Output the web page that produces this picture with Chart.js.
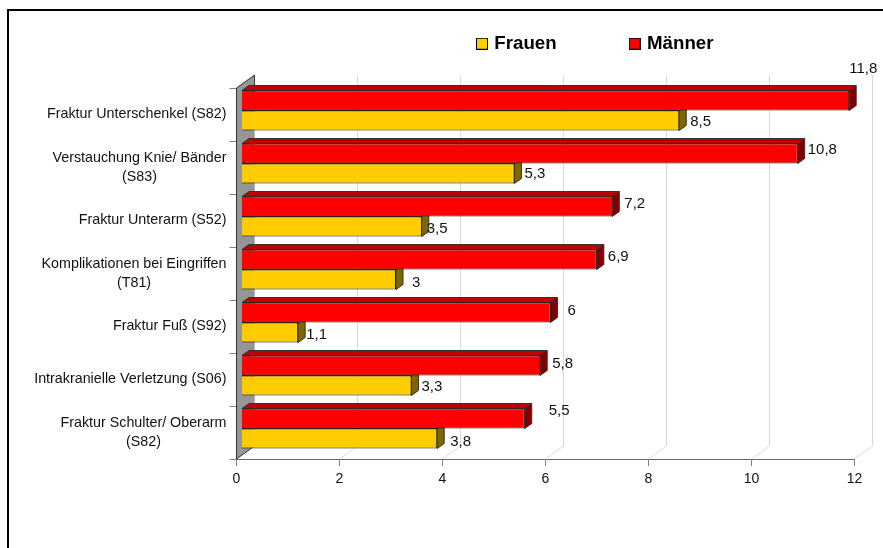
<!DOCTYPE html>
<html>
<head>
<meta charset="utf-8">
<style>html,body{margin:0;padding:0;background:#fff}canvas{display:block}</style>
<script src="https://cdn.jsdelivr.net/npm/chart.js@4/dist/chart.umd.min.js"></script>
</head>
<body>
<canvas id="c" width="883" height="548"></canvas>
<script>
const categories = [
  'Fraktur Unterschenkel (S82)',
  ['Verstauchung Knie/ Bänder', '(S83)'],
  'Fraktur Unterarm (S52)',
  ['Komplikationen bei Eingriffen', '(T81)'],
  'Fraktur Fuß (S92)',
  'Intrakranielle Verletzung (S06)',
  ['Fraktur Schulter/ Oberarm', '(S82)']
];
const maenner = [11.8, 10.8, 7.2, 6.9, 6, 5.8, 5.5];
const frauen = [8.5, 5.3, 3.5, 3, 1.1, 3.3, 3.8];
const xTicks = [0, 2, 4, 6, 8, 10, 12];

// hand placement of the value labels, relative to each bar's end
const maennerNudge = [[-7, -32], [3, -4], [5, -3], [4, -3], [10, -2], [5, -2], [17, -8]];
const frauenNudge = [[4, 1], [3, 0], [-2, 2], [9, 3], [1, 2], [3, 1], [6, 3]];

const FONT = '"Liberation Sans", Arial, sans-serif';
const BAR_SHIFT = {x: 5, y: -4};
const BAR_DEPTH = {x: 7, y: -5};
const WALL_DEPTH = {x: 18, y: -13};

function swatch(color) {
  const s = document.createElement('canvas');
  s.width = 12; s.height = 12;
  const g = s.getContext('2d');
  g.fillStyle = color; g.fillRect(0, 0, 12, 12);
  g.strokeStyle = '#000'; g.lineWidth = 1; g.strokeRect(.5, .5, 11, 11);
  return s;
}

function poly(ctx, pts, fill, stroke) {
  ctx.beginPath();
  pts.forEach((p, i) => i ? ctx.lineTo(p[0], p[1]) : ctx.moveTo(p[0], p[1]));
  ctx.closePath();
  if (fill) { ctx.fillStyle = fill; ctx.fill(); }
  if (stroke) { ctx.strokeStyle = stroke; ctx.lineWidth = 1; ctx.stroke(); }
}

const scene3d = {
  id: 'scene3d',
  beforeUpdate(chart) {
    const lg = chart.legend;
    if (lg && !lg._wrapped) {
      const fit = lg.fit;
      lg.fit = function () { fit.call(this); this.height = 0; };
      lg._wrapped = true;
    }
  },
  afterLayout(chart) {
    const lg = chart.legend;
    const pad = lg.options.labels.padding;
    lg.left = 479 - pad;
    lg.right = 1200;
    lg.top = 43.7 - 9.35 - pad;

    // centre the lines of wrapped category labels under each other
    const ys = chart.scales.y, ctx = chart.ctx;
    ys.getLabelItems().forEach(item => {
      if (!Array.isArray(item.label)) return;
      ctx.save();
      ctx.font = item.font.string;
      const w = Math.max(...item.label.map(t => ctx.measureText(t).width));
      ctx.restore();
      item.options.textAlign = 'center';
      item.options.translation = [item.options.translation[0] - w / 2, item.options.translation[1]];
    });
  },
  beforeDraw(chart) {
    const ctx = chart.ctx;
    ctx.save();
    ctx.fillStyle = '#000';
    ctx.fillRect(7, 9, 876, 2);
    ctx.fillRect(7, 9, 2, 539);
    ctx.restore();
  },
  beforeDatasetsDraw(chart) {
    const ctx = chart.ctx, xs = chart.scales.x, a = chart.chartArea;
    ctx.save();
    // back grid lines on the floor and back wall
    xs.ticks.forEach((t, i) => {
      const x = xs.getPixelForTick(i);
      ctx.beginPath();
      ctx.moveTo(x, a.bottom);
      ctx.lineTo(x + WALL_DEPTH.x, a.bottom + WALL_DEPTH.y);
      ctx.lineTo(x + WALL_DEPTH.x, a.top + WALL_DEPTH.y);
      ctx.strokeStyle = '#d9d9d9';
      ctx.lineWidth = 1;
      ctx.stroke();
    });
    // side wall
    poly(ctx, [
      [a.left, a.bottom],
      [a.left, a.top],
      [a.left + WALL_DEPTH.x, a.top + WALL_DEPTH.y],
      [a.left + WALL_DEPTH.x, a.bottom + WALL_DEPTH.y]
    ], '#969696');
    ctx.beginPath();
    ctx.moveTo(a.left, a.bottom);
    ctx.lineTo(a.left, a.top);
    ctx.lineTo(a.left + WALL_DEPTH.x, a.top + WALL_DEPTH.y);
    ctx.lineTo(a.left + WALL_DEPTH.x, a.top + 12);
    ctx.strokeStyle = '#333';
    ctx.lineWidth = 1;
    ctx.stroke();
    ctx.beginPath();
    ctx.moveTo(a.left, a.bottom);
    ctx.lineTo(a.left + WALL_DEPTH.x, a.bottom + WALL_DEPTH.y);
    ctx.stroke();
    ctx.translate(BAR_SHIFT.x, BAR_SHIFT.y);
    // depth faces of each bar, lower series first
    [1, 0].forEach(di => {
      const ds = chart.data.datasets[di];
      chart.getDatasetMeta(di).data.forEach(b => {
        const t = b.y - b.height / 2, bt = b.y + b.height / 2, dx = BAR_DEPTH.x, dy = BAR_DEPTH.y;
        poly(ctx, [[b.base, t], [b.base + dx, t + dy], [b.x + dx, t + dy], [b.x, t]], ds.topColor, '#333');
        poly(ctx, [[b.x, t], [b.x + dx, t + dy], [b.x + dx, bt + dy], [b.x, bt]], ds.sideColor, '#333');
      });
    });
    ctx.restore();
  },
  beforeDatasetDraw(chart) {
    chart.ctx.save();
    chart.ctx.translate(BAR_SHIFT.x, BAR_SHIFT.y);
  },
  afterDatasetDraw(chart) {
    chart.ctx.restore();
  },
  afterDatasetsDraw(chart) {
    const ctx = chart.ctx;
    ctx.save();
    ctx.font = '15px ' + FONT;
    ctx.fillStyle = '#111';
    ctx.textAlign = 'left';
    ctx.textBaseline = 'middle';
    chart.data.datasets.forEach((ds, di) => {
      chart.getDatasetMeta(di).data.forEach((b, i) => {
        const n = ds.nudge[i];
        const txt = String(ds.data[i]).replace('.', ',');
        ctx.fillText(txt, b.x + BAR_SHIFT.x + BAR_DEPTH.x + n[0], b.y + BAR_SHIFT.y + n[1]);
      });
    });
    ctx.restore();
  }
};

new Chart(document.getElementById('c'), {
  type: 'bar',
  data: {
    labels: categories,
    datasets: [
      {label: 'Männer', data: maenner, backgroundColor: '#ff0000', borderColor: '#111', borderWidth: 1,
       topColor: '#c00000', sideColor: '#800000', nudge: maennerNudge},
      {label: 'Frauen', data: frauen, backgroundColor: '#ffcc00', borderColor: '#111', borderWidth: 1,
       topColor: '#cca300', sideColor: '#806600', nudge: frauenNudge}
    ]
  },
  options: {
    indexAxis: 'y',
    responsive: false,
    animation: false,
    layout: {padding: {left: 0, right: 28.5, top: 88, bottom: 59}},
    datasets: {bar: {categoryPercentage: 40 / 53, barPercentage: 1}},
    scales: {
      x: {
        min: 0, max: 12,
        afterBuildTicks(s) { s.ticks = xTicks.map(v => ({value: v})); },
        afterFit(s) { s.height = 30; },
        grid: {drawOnChartArea: false, color: '#808080', tickLength: 7},
        border: {color: '#666', width: 1},
        ticks: {color: '#111', font: {family: FONT, size: 14}, padding: 5, maxRotation: 0}
      },
      y: {
        afterFit(s) { s.width = 236.5; },
        grid: {drawOnChartArea: false, offset: true, color: '#808080', tickLength: 7},
        border: {color: '#666', width: 1},
        ticks: {color: '#111', font: {family: FONT, size: 14.3, lineHeight: 1.34}, padding: 3, autoSkip: false}
      }
    },
    plugins: {
      tooltip: {enabled: false},
      legend: {
        position: 'top',
        align: 'start',
        labels: {
          usePointStyle: true,
          pointStyleWidth: 6,
          boxHeight: 12,
          padding: 75,
          color: '#000',
          font: {family: FONT, size: 18.7, weight: 'bold'},
          generateLabels(chart) {
            return [1, 0].map(i => {
              const d = chart.data.datasets[i];
              return {text: d.label, pointStyle: swatch(d.backgroundColor), datasetIndex: i,
                      fontColor: '#000', hidden: false, lineWidth: 0};
            });
          }
        }
      }
    }
  },
  plugins: [scene3d]
});
</script>
</body>
</html>
